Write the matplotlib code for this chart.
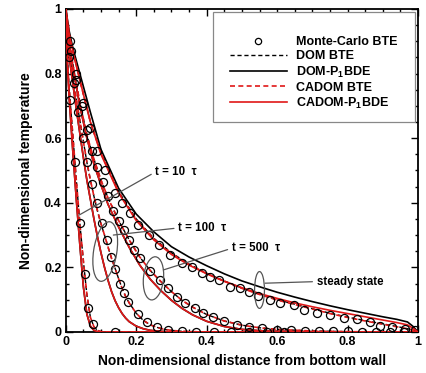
import matplotlib
matplotlib.use("Agg")
import matplotlib.pyplot as plt
from matplotlib.lines import Line2D
from matplotlib.patches import Ellipse, Rectangle
from matplotlib.ticker import MultipleLocator

plt.rcParams['font.family'] = ['Liberation Sans', 'DejaVu Sans']
plt.rcParams['mathtext.fontset'] = 'custom'
plt.rcParams['mathtext.rm'] = 'Liberation Sans'
plt.rcParams['mathtext.bf'] = 'Liberation Sans:bold'

# ---------------- data ----------------
# steady state
ss_x = [0, 0.01, 0.02, 0.04, 0.07, 0.1, 0.15, 0.2, 0.25, 0.3, 0.35, 0.4, 0.45, 0.5,
        0.55, 0.6, 0.65, 0.7, 0.75, 0.8, 0.85, 0.9, 0.94, 0.97, 0.985, 1.0]
ss_dom_p1 = [1, 0.93, 0.88, 0.8, 0.68, 0.565, 0.445, 0.365, 0.31, 0.264, 0.232, 0.205, 0.18, 0.158,
             0.14, 0.123, 0.108, 0.094, 0.081, 0.069, 0.058, 0.047, 0.039, 0.031, 0.018, 0.0]
ss_cadom_p1 = [1, 0.92, 0.87, 0.78, 0.65, 0.55, 0.43, 0.345, 0.285, 0.24, 0.207, 0.18, 0.157, 0.137,
               0.119, 0.104, 0.09, 0.078, 0.067, 0.057, 0.047, 0.037, 0.029, 0.022, 0.012, 0.0]
ss_dom_bte = [1, 0.92, 0.87, 0.78, 0.65, 0.555, 0.435, 0.35, 0.29, 0.245, 0.21, 0.182, 0.158, 0.136,
              0.117, 0.1, 0.086, 0.072, 0.058, 0.046, 0.035, 0.025, 0.017, 0.01, 0.006, 0.0]
ss_cadom_bte = [1, 0.92, 0.87, 0.78, 0.65, 0.553, 0.433, 0.348, 0.288, 0.243, 0.209, 0.181, 0.157, 0.135,
                0.116, 0.099, 0.085, 0.071, 0.057, 0.045, 0.034, 0.024, 0.016, 0.01, 0.006, 0.0]
ss_mc_x = [0.012, 0.03, 0.05, 0.07, 0.09, 0.112, 0.14, 0.16, 0.183, 0.206, 0.235, 0.265, 0.296, 0.33,
           0.358, 0.386, 0.41, 0.434, 0.467, 0.495, 0.519, 0.547, 0.58, 0.609, 0.647, 0.675, 0.713,
           0.75, 0.789, 0.827, 0.864, 0.893, 0.926, 0.964, 0.99]
ss_mc_y = [0.9, 0.8, 0.71, 0.63, 0.56, 0.5, 0.43, 0.4, 0.367, 0.331, 0.3, 0.27, 0.237, 0.212,
           0.2, 0.184, 0.171, 0.161, 0.14, 0.135, 0.125, 0.11, 0.099, 0.091, 0.084, 0.068, 0.06,
           0.053, 0.042, 0.039, 0.032, 0.019, 0.015, 0.008, 0.006]

# t = 500 tau
t500_x = [0, 0.01, 0.02, 0.04, 0.06, 0.08, 0.1, 0.12, 0.15, 0.18, 0.21, 0.24, 0.27, 0.3, 0.33,
          0.36, 0.4, 0.45, 0.5, 0.55, 0.6, 0.7, 0.8, 0.9, 1.0]
t500_bte = [1, 0.9, 0.83, 0.71, 0.61, 0.535, 0.47, 0.415, 0.345, 0.285, 0.232, 0.19, 0.156, 0.125,
            0.098, 0.077, 0.054, 0.034, 0.021, 0.013, 0.008, 0.003, 0.001, 0.0, 0.0]
t500_p1 = [1, 0.89, 0.82, 0.70, 0.6, 0.52, 0.455, 0.395, 0.325, 0.262, 0.207, 0.163, 0.128, 0.098,
           0.073, 0.053, 0.033, 0.017, 0.008, 0.004, 0.002, 0.001, 0.0, 0.0, 0.0]
t500_mc_x = [0.015, 0.03, 0.045, 0.06, 0.075, 0.09, 0.105, 0.12, 0.135, 0.15, 0.165, 0.18, 0.195,
             0.21, 0.24, 0.268, 0.291, 0.315, 0.339, 0.367, 0.391, 0.419, 0.448, 0.486, 0.519,
             0.557, 0.6, 0.64, 0.68, 0.72, 0.76, 0.8, 0.84, 0.88, 0.92, 0.96]
t500_mc_y = [0.87, 0.78, 0.7, 0.625, 0.56, 0.51, 0.465, 0.42, 0.375, 0.345, 0.315, 0.285, 0.255,
             0.23, 0.19, 0.16, 0.135, 0.107, 0.089, 0.073, 0.058, 0.047, 0.033, 0.022, 0.016,
             0.011, 0.007, 0.005, 0.004, 0.003, 0.002, 0.002, 0.001, 0.001, 0.0, 0.0]

# t = 100 tau
t100_x = [0, 0.01, 0.02, 0.03, 0.04, 0.05, 0.06, 0.07, 0.08, 0.09, 0.1, 0.11, 0.12, 0.13, 0.14,
          0.15, 0.16, 0.17, 0.18, 0.2, 0.22, 0.24, 0.26, 0.28, 0.3, 0.33, 0.36, 0.4, 0.5, 0.7, 1.0]
t100_bte = [1, 0.86, 0.79, 0.72, 0.655, 0.59, 0.525, 0.47, 0.42, 0.375, 0.335, 0.3, 0.263, 0.228,
            0.197, 0.165, 0.135, 0.11, 0.09, 0.058, 0.036, 0.022, 0.014, 0.008, 0.005, 0.002,
            0.001, 0, 0, 0, 0]
t100_p1 = [1, 0.85, 0.77, 0.69, 0.615, 0.54, 0.47, 0.41, 0.35, 0.295, 0.245, 0.2, 0.16, 0.125,
           0.097, 0.075, 0.057, 0.043, 0.032, 0.018, 0.01, 0.005, 0.003, 0.001, 0, 0, 0, 0, 0, 0, 0]
t100_mc_x = [0.01, 0.022, 0.035, 0.048, 0.06, 0.074, 0.088, 0.102, 0.116, 0.129, 0.14, 0.154,
             0.166, 0.178, 0.204, 0.232, 0.258, 0.29, 0.33, 0.37, 0.42, 0.47, 0.52, 0.57, 0.62]
t100_mc_y = [0.85, 0.77, 0.68, 0.6, 0.525, 0.458, 0.4, 0.336, 0.285, 0.233, 0.195, 0.15,
             0.12, 0.092, 0.055, 0.03, 0.016, 0.006, 0.003, 0.001, 0, 0, 0, 0, 0]

# t = 10 tau
t10_x = [0, 0.005, 0.01, 0.015, 0.02, 0.03, 0.04, 0.05, 0.06, 0.07, 0.08, 0.09, 0.1, 0.12, 0.2, 1.0]
t10_bte = [1, 0.84, 0.75, 0.68, 0.61, 0.47, 0.336, 0.22, 0.115, 0.045, 0.016, 0.005, 0.001, 0, 0, 0]
t10_p1 = [1, 0.82, 0.72, 0.64, 0.56, 0.41, 0.27, 0.14, 0.055, 0.018, 0.005, 0.001, 0, 0, 0, 0]
t10_mc_x = [0.012, 0.026, 0.04, 0.055, 0.064, 0.077, 0.14]
t10_mc_y = [0.718, 0.525, 0.336, 0.178, 0.073, 0.024, 0.0]

xticks = [0, 0.2, 0.4, 0.6, 0.8, 1]
tick_labels = ['0', '0.2', '0.4', '0.6', '0.8', '1']

RED = '#e01818'
GRAY = '#555555'

fig = plt.figure(figsize=(4.27, 3.73), dpi=100)
ax = fig.add_axes([0.154, 0.110, 0.825, 0.866])

families = [
    (ss_x, ss_dom_bte, ss_dom_p1, ss_cadom_bte, ss_cadom_p1, ss_mc_x, ss_mc_y),
    (t500_x, t500_bte, t500_p1, t500_bte, t500_p1, t500_mc_x, t500_mc_y),
    (t100_x, t100_bte, t100_p1, t100_bte, t100_p1, t100_mc_x, t100_mc_y),
    (t10_x, t10_bte, t10_p1, t10_bte, t10_p1, t10_mc_x, t10_mc_y),
]
for gx, dom_bte, dom_p1, ca_bte, ca_p1, mx, my in families:
    ax.plot(gx, dom_bte, color='k', ls=(0, (3, 2)), lw=1.0, zorder=2)
    ax.plot(gx, dom_p1, color='k', ls='-', lw=1.2, zorder=2)
    ax.plot(gx, ca_bte, color=RED, ls=(0, (3, 2)), lw=1.2, zorder=3)
    ax.plot(gx, ca_p1, color=RED, ls='-', lw=1.2, zorder=3)
    ax.plot(mx, my, ls='none', marker='o', ms=5.8, mfc='none', mec='k', mew=0.9, zorder=4)

ax.set_xlim(0, 1)
ax.set_ylim(0, 1)
ax.set_xticks(xticks)
ax.set_xticklabels(tick_labels)
ax.set_yticks(xticks)
ax.set_yticklabels(tick_labels)
ax.xaxis.set_minor_locator(MultipleLocator(0.05))
ax.yaxis.set_minor_locator(MultipleLocator(0.05))
ax.tick_params(which='both', direction='in', top=True, right=True, width=1.0)
ax.tick_params(which='major', length=5, labelsize=9, pad=3)
ax.tick_params(which='minor', length=2.5)
for lab in ax.get_xticklabels() + ax.get_yticklabels():
    lab.set_fontweight('bold')
for sp in ax.spines.values():
    sp.set_linewidth(1.3)

ax.set_xlabel('Non-dimensional distance from bottom wall', fontsize=10, fontweight='bold', labelpad=4)
ax.set_ylabel('Non-dimensional temperature', fontsize=10, fontweight='bold', labelpad=8)

# annotations
ann_kw = dict(fontsize=8.3, fontweight='bold', ha='left', va='center', zorder=6,
              arrowprops=dict(arrowstyle='-', color=GRAY, lw=0.9, shrinkA=1, shrinkB=0,
                              relpos=(0, 0.5)))
ax.annotate('t = 10  τ', xy=(0.038, 0.362), xytext=(0.254, 0.495), **ann_kw)
ax.annotate('t = 100  τ', xy=(0.135, 0.30), xytext=(0.319, 0.322), **ann_kw)
ax.annotate('t = 500  τ', xy=(0.277, 0.192), xytext=(0.471, 0.259), **ann_kw)
ax.annotate('steady state', xy=(0.566, 0.151), xytext=(0.712, 0.156), **ann_kw)

ax.add_patch(Ellipse((0.112, 0.249), 0.066, 0.186, angle=-8, fill=False, ec=GRAY, lw=0.9, zorder=6))
ax.add_patch(Ellipse((0.249, 0.166), 0.057, 0.134, angle=-5, fill=False, ec=GRAY, lw=0.9, zorder=6))
ax.add_patch(Ellipse((0.55, 0.13), 0.028, 0.114, angle=0, fill=False, ec=GRAY, lw=0.9, zorder=6))

# legend
ax.add_patch(Rectangle((0.418, 0.651), 0.573, 0.341, transform=ax.transAxes,
                       fc='white', ec='#888888', lw=0.9, zorder=7))
handles = [
    Line2D([], [], ls='none', marker='o', ms=4.5, mfc='none', mec='k', mew=0.9),
    Line2D([], [], color='k', ls=(0, (3, 2)), lw=1.0),
    Line2D([], [], color='k', ls='-', lw=1.2),
    Line2D([], [], color=RED, ls=(0, (3, 2)), lw=1.2),
    Line2D([], [], color=RED, ls='-', lw=1.2),
]
labels = ['Monte-Carlo BTE', 'DOM BTE', r'DOM-P$_\mathbf{1}$BDE', 'CADOM BTE', r'CADOM-P$_\mathbf{1}$BDE']
leg = ax.legend(handles, labels, loc='upper left', bbox_to_anchor=(0.466, 0.915),
                frameon=False, prop={'weight': 'bold', 'size': 9}, handlelength=4.55,
                handletextpad=0.75, labelspacing=0.16, borderpad=0, borderaxespad=0)
leg.set_zorder(8)

fig.savefig('out.png', dpi=100)
